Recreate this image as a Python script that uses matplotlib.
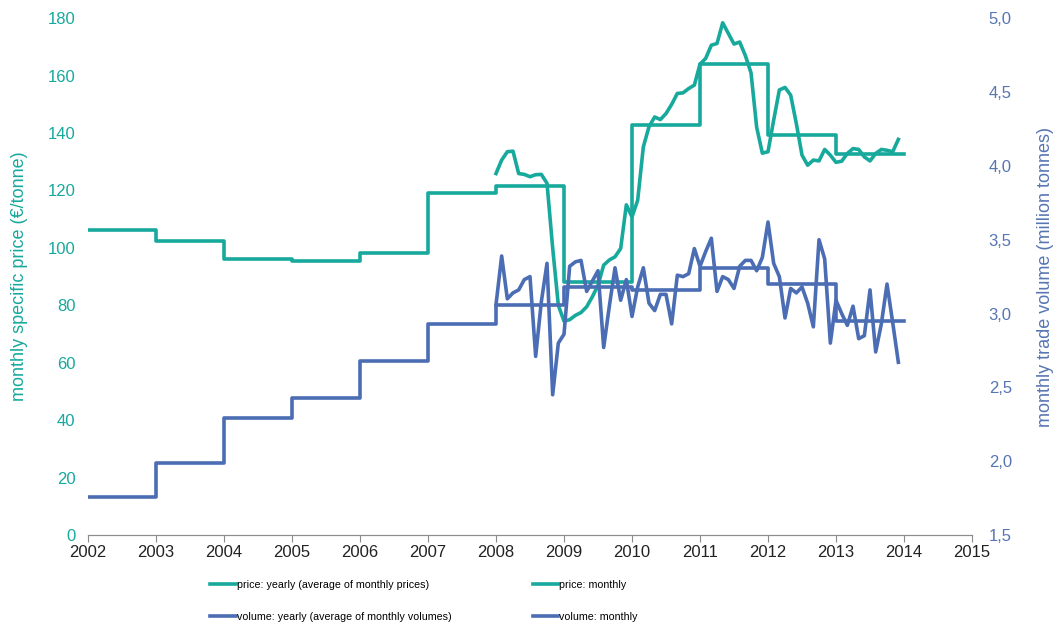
import numpy as np
import matplotlib.pyplot as plt
from matplotlib.ticker import FuncFormatter

plt.rcParams['font.family'] = ['Liberation Sans', 'DejaVu Sans']

teal = '#17a99c'
blue = '#4b6db4'

# yearly values 2002..2013 (each held until next year)
years = list(range(2002, 2015))
price_yearly = [106.4, 102.4, 96.3, 95.5, 98.4, 119.3, 121.6, 88.0, 142.8, 164.0, 139.3, 132.7]
volume_yearly = [1.76, 1.99, 2.29, 2.43, 2.68, 2.93, 3.06, 3.18, 3.16, 3.31, 3.20, 2.95]

# monthly values Jan 2008 .. Dec 2013
price_monthly = [
    125.9, 130.6, 133.5, 133.7, 125.9, 125.6, 124.8, 125.5, 125.6, 122.5, 100.0, 80.0,
    74.5, 75.0, 76.5, 77.5, 79.5, 83.0, 87.0, 94.0, 95.8, 96.9, 99.8, 115.0,
    110.8, 116.6, 135.2, 142.2, 145.6, 144.7, 146.8, 150.0, 153.8, 154.0, 155.5, 156.7,
    164.0, 166.0, 170.6, 171.2, 178.4, 174.7, 171.0, 171.7, 167.0, 161.0, 142.0, 133.0,
    133.5, 144.5, 155.0, 155.9, 153.2, 143.3, 132.3, 128.8, 130.6, 130.3, 134.3, 132.3,
    129.8, 130.2, 132.9, 134.6, 134.3, 131.7, 130.3, 132.9, 134.3, 134.0, 133.5, 137.8,
]
volume_monthly = [
    3.06, 3.39, 3.10, 3.14, 3.16, 3.23, 3.25, 2.71, 3.08, 3.34, 2.45, 2.80,
    2.86, 3.32, 3.35, 3.36, 3.15, 3.22, 3.29, 2.77, 3.05, 3.31, 3.09, 3.23,
    2.98, 3.18, 3.31, 3.07, 3.02, 3.13, 3.13, 2.93, 3.26, 3.25, 3.27, 3.44,
    3.32, 3.42, 3.51, 3.15, 3.25, 3.23, 3.17, 3.32, 3.36, 3.36, 3.29, 3.38,
    3.62, 3.34, 3.25, 2.97, 3.17, 3.14, 3.18, 3.07, 2.91, 3.50, 3.37, 2.80,
    3.09, 3.00, 2.92, 3.05, 2.83, 2.85, 3.16, 2.74, 2.93, 3.20, 2.94, 2.67,
]
months = 2008 + np.arange(len(price_monthly)) / 12

fig = plt.figure(figsize=(10.6, 6.28), dpi=100)
ax = fig.add_axes([0.083, 0.148, 0.834, 0.823])
ax2 = ax.twinx()

lw = 2.6
l1, = ax.step(years, price_yearly + [price_yearly[-1]], where='post', color=teal, lw=lw)
l2, = ax.plot(months, price_monthly, color=teal, lw=lw)
l3, = ax2.step(years, volume_yearly + [volume_yearly[-1]], where='post', color=blue, lw=lw)
l4, = ax2.plot(months, volume_monthly, color=blue, lw=lw)

ax.set_xlim(2002, 2015)
ax.set_ylim(0, 180)
ax2.set_ylim(1.5, 5.0)
ax.set_xticks(range(2002, 2016))
ax.set_yticks(range(0, 181, 20))
ax2.set_yticks(np.arange(1.5, 5.01, 0.5))
ax2.yaxis.set_major_formatter(FuncFormatter(lambda v, p: f'{v:.1f}'.replace('.', ',')))

for a in (ax, ax2):
    for s in ('top', 'left', 'right'):
        a.spines[s].set_visible(False)
    a.spines['bottom'].set_color('#8c8c8c')

ax.tick_params(axis='x', direction='out', length=5, color='#8c8c8c', labelsize=12,
               labelcolor='#222222', pad=2)
ax.tick_params(axis='y', length=0, labelcolor=teal, labelsize=12, pad=9)
ax2.tick_params(axis='y', length=0, labelcolor='#5675b2', labelsize=12, pad=12)

ax.set_ylabel('monthly specific price (€/tonne)', color=teal, fontsize=13)
ax.yaxis.set_label_coords(-0.068, 0.5)
ax2.set_ylabel('monthly trade volume (million tonnes)', color='#5675b2', fontsize=13)
ax2.yaxis.set_label_coords(1.073, 0.5)

fig.legend([l1, l3, l2, l4],
           ['price: yearly (average of monthly prices)',
            'volume: yearly (average of monthly volumes)',
            'price: monthly', 'volume: monthly'],
           ncol=2, loc='center', bbox_to_anchor=(0.4, 0.043), frameon=False,
           fontsize=7.7, handlelength=2.4, handletextpad=0.1, columnspacing=7.6,
           labelspacing=2.1)

fig.savefig('out.png', dpi=100)
